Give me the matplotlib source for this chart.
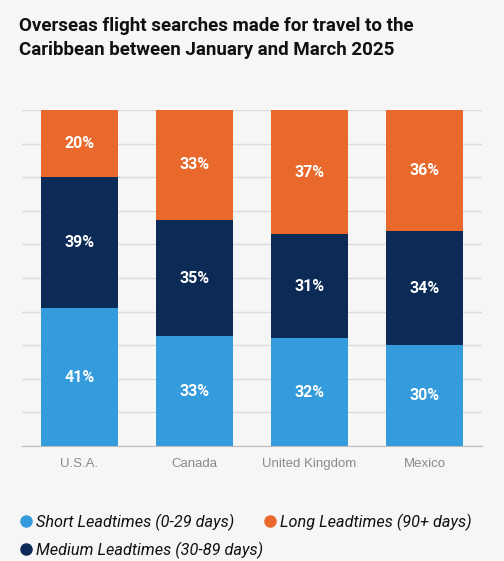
import numpy as np
import matplotlib.pyplot as plt
from matplotlib.lines import Line2D

countries = ["U.S.A.", "Canada", "United Kingdom", "Mexico"]
short_lead = [41, 33, 32, 30]
medium_lead = [39, 35, 31, 34]
long_lead = [20, 33, 37, 36]

series_names = ["Short Leadtimes (0-29 days)", "Medium Leadtimes (30-89 days)",
                "Long Leadtimes (90+ days)"]
colors = ["#349bdc", "#0c2a56", "#e9692c"]

plt.rcParams['font.family'] = ['Roboto', 'DejaVu Sans']

bg = "#f6f6f6"
fig = plt.figure(figsize=(5.04, 5.61), dpi=100, facecolor=bg)
ax = fig.add_axes([22 / 504, 1 - 446 / 561, 460 / 504, 336 / 561])
ax.set_facecolor(bg)

data = np.array([short_lead, medium_lead, long_lead], dtype=float)
shares = data / data.sum(axis=0) * 100  # bars fill 100%
x = np.arange(len(countries))
bottom = np.zeros(len(countries))
for i in range(3):
    ax.bar(x, shares[i], bottom=bottom, width=0.67, color=colors[i],
           label=series_names[i], zorder=3)
    for j in range(len(countries)):
        ax.text(x[j], bottom[j] + shares[i][j] / 2, "{:d}%".format(int(data[i][j])),
                ha="center", va="center", color="white", fontsize=11.5,
                fontweight="bold", zorder=4)
    bottom += shares[i]

ax.set_xlim(-0.5, len(countries) - 0.5)
ax.set_ylim(0, 100)
ax.set_yticks(np.arange(0, 101, 10))
ax.yaxis.grid(True, color="#dcdcdc", linewidth=1, zorder=0)
ax.tick_params(axis="y", left=False, labelleft=False)
ax.tick_params(axis="x", bottom=False, labelsize=9, labelcolor="#8a8a8a", pad=5)
ax.set_xticks(x)
ax.set_xticklabels(countries, family=["Liberation Sans", "DejaVu Sans"], fontsize=9.5)
for s in ["top", "left", "right"]:
    ax.spines[s].set_visible(False)
ax.spines["bottom"].set_color("#bdbdbd")
ax.spines["bottom"].set_zorder(5)

fig.text(19 / 504, 1 - 17 / 561,
         "Overseas flight searches made for travel to the\nCaribbean between January and March 2025",
         ha="left", va="top", fontsize=13.5, fontweight="bold", color="#111111",
         linespacing=1.45)

handles = [Line2D([], [], marker="o", linestyle="none", markersize=8,
                  markerfacecolor=c, markeredgecolor=c) for c in colors]
# column-first fill: Short, Medium | Long
leg = fig.legend(handles, series_names, loc="upper left", ncol=2,
                 bbox_to_anchor=(2 / 504, 1 - 499 / 561), frameon=False,
                 prop={"style": "italic", "size": 11.7}, handletextpad=0.0,
                 columnspacing=-0.2, labelspacing=0.65, handlelength=1.2)
for t in leg.get_texts():
    t.set_color("#111111")

fig.savefig("out.png", dpi=100, facecolor=bg)
